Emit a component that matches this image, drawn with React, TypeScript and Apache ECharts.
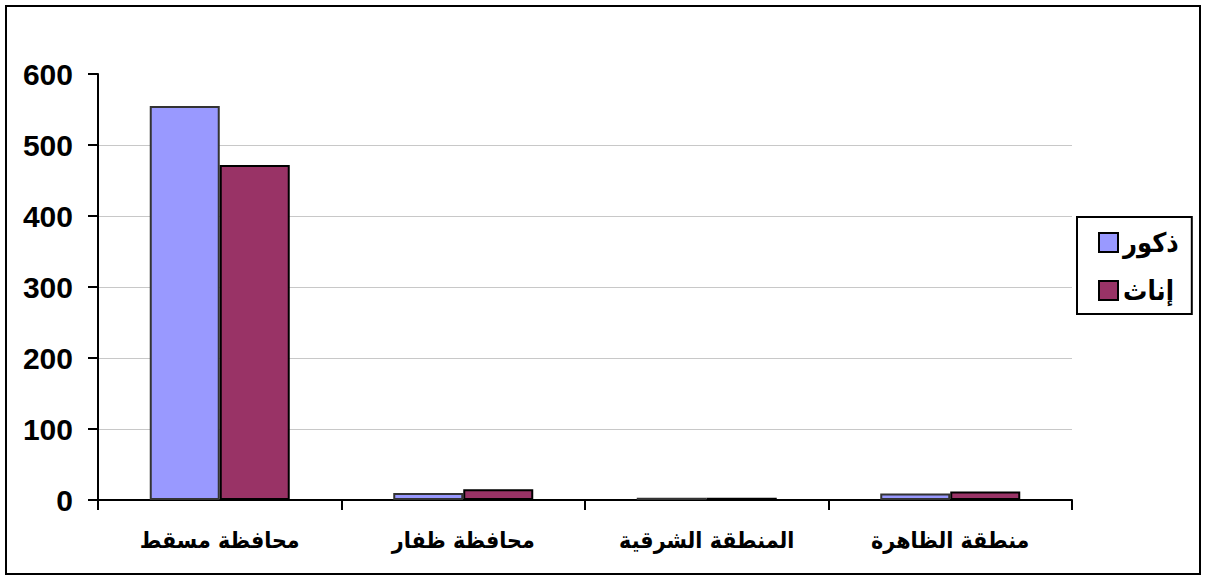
import React, { useEffect, useRef } from "react";
import * as echarts from "echarts";

const categories = ["محافظة مسقط", "محافظة ظفار", "المنطقة الشرقية", "منطقة الظاهرة"];
const maleValues = [555, 10, 3, 9];
const femaleValues = [472, 15, 3, 12];
const seriesNames = ["ذكور", "إناث"];
const yTicks = [0, 100, 200, 300, 400, 500, 600];

const FONT = "'Liberation Sans', Arial, sans-serif";
const AFONT = "'DejaVu Sans Condensed', 'DejaVu Sans', sans-serif";

export default function App() {
  const ref = useRef<HTMLDivElement>(null);
  useEffect(() => {
    document.body.style.margin = "0";
    const chart = echarts.init(ref.current!, null, { renderer: "svg" });
    chart.setOption({
      animation: false,
      backgroundColor: "#ffffff",
      textStyle: { fontFamily: FONT },
      graphic: [
        {
          type: "rect",
          shape: { x: 6, y: 6, width: 1194, height: 568 },
          style: { fill: "none", stroke: "#000", lineWidth: 2 },
          silent: true,
          z: 0,
        },
      ],
      grid: { left: 98, right: 135, top: 74, bottom: 76, containLabel: false },
      legend: {
        orient: "vertical",
        left: 1077,
        top: 217,
        data: seriesNames,
        itemWidth: 19,
        itemHeight: 19,
        itemGap: 21,
        padding: [12, 13, 10, 21],
        borderColor: "#000",
        borderWidth: 2,
        backgroundColor: "#fff",
        icon: "rect",
        textStyle: { fontSize: 27, lineHeight: 22, fontWeight: "bold", color: "#000", fontFamily: AFONT },
        itemStyle: { borderColor: "#000", borderWidth: 2 },
      },
      xAxis: {
        type: "category",
        data: categories,
        boundaryGap: true,
        axisLine: { show: true, lineStyle: { color: "#000", width: 2 } },
        axisTick: { show: true, alignWithLabel: false, length: 10, lineStyle: { color: "#000", width: 2 } },
        axisLabel: { color: "#000", fontSize: 23, fontWeight: "bold", margin: 28, fontFamily: AFONT },
        splitLine: { show: false },
      },
      yAxis: {
        type: "value",
        min: yTicks[0],
        max: yTicks[yTicks.length - 1],
        interval: 100,
        axisLine: { show: true, lineStyle: { color: "#000", width: 2 } },
        axisTick: { show: true, length: 10, lineStyle: { color: "#000", width: 2 } },
        axisLabel: { color: "#000", fontSize: 30, fontWeight: "bold", margin: 25, fontFamily: FONT },
        splitLine: { show: true, showMaxLine: false, showMinLine: false, lineStyle: { color: "#c8c8c8", width: 1 } },
      },
      series: [
        {
          name: seriesNames[0],
          type: "bar",
          data: maleValues,
          barWidth: 70,
          barGap: "0%",
          itemStyle: { color: "#9999FF", borderColor: "#333333", borderWidth: 2 },
        },
        {
          name: seriesNames[1],
          type: "bar",
          data: femaleValues,
          barWidth: 70,
          barGap: "0%",
          itemStyle: { color: "#993366", borderColor: "#000000", borderWidth: 2 },
        },
      ],
    });
    return () => chart.dispose();
  }, []);
  return <div ref={ref} style={{ width: 1207, height: 576, position: "absolute", left: 0, top: 0 }} />;
}
